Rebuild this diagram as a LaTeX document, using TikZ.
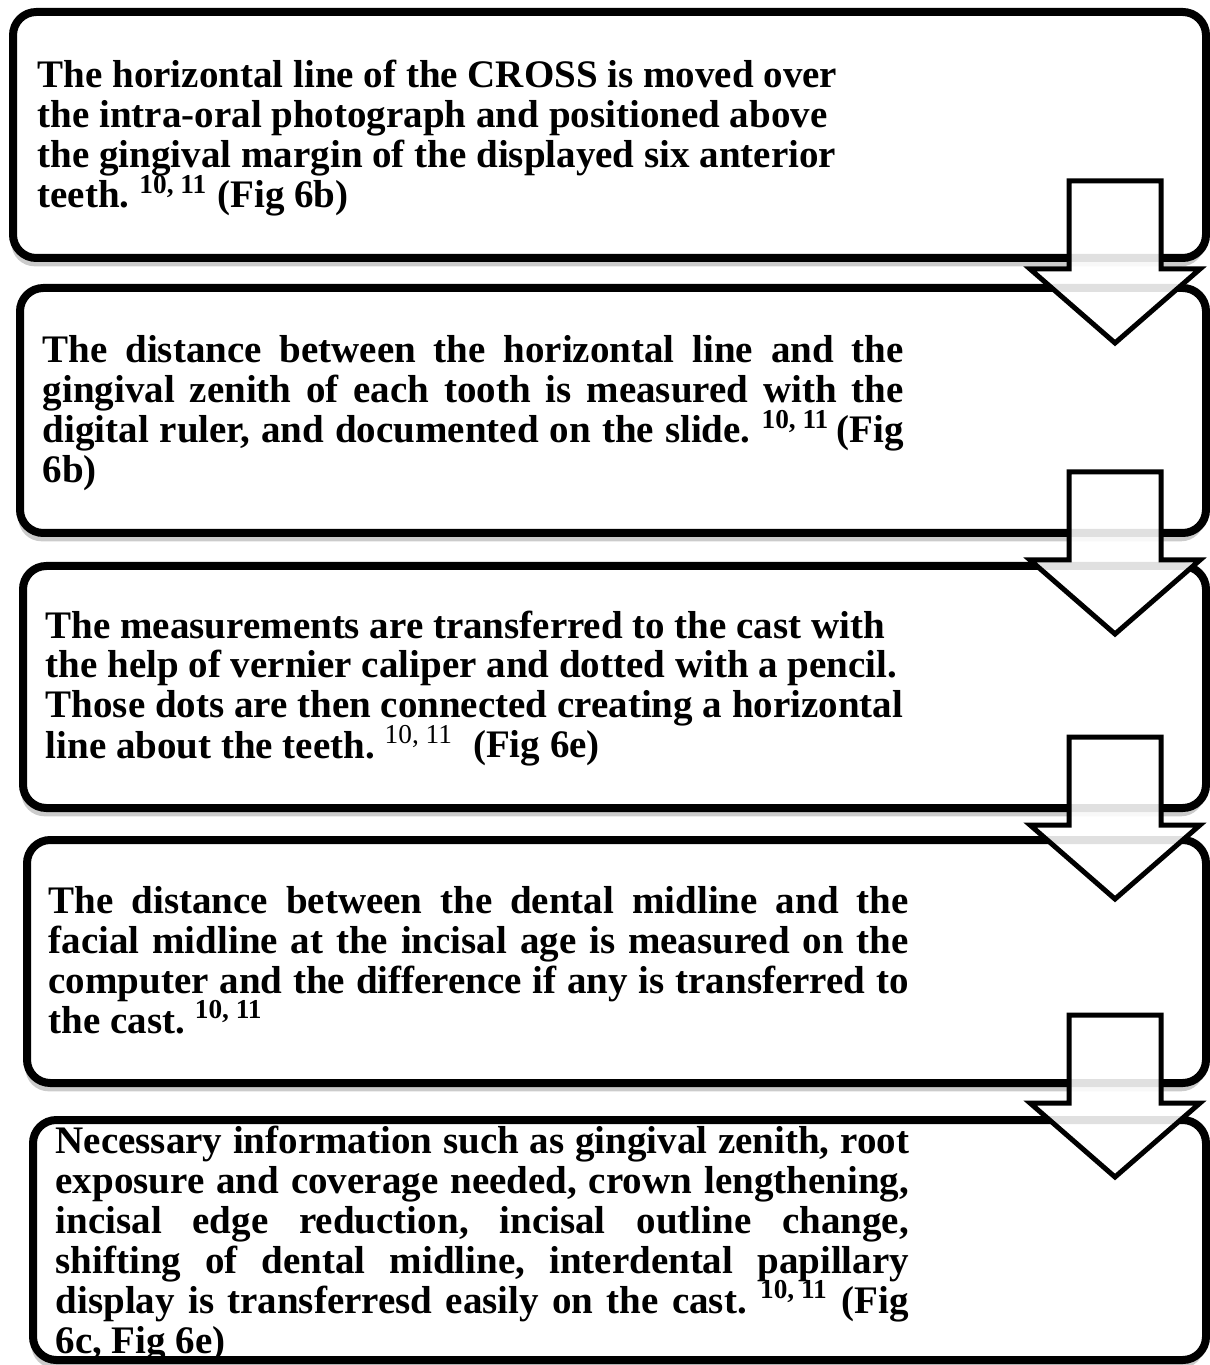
\documentclass[tikz,border=0pt]{standalone}
\usepackage{fontspec}
\setmainfont{Liberation Serif}
\usetikzlibrary{shadows}
\frenchspacing
\begin{document}
\begin{tikzpicture}[x=0.3pt,y=-0.3pt]


\newcommand{\refs}[1]{\textsuperscript{#1}}
\newcommand{\lrefs}[1]{\textsuperscript{\mdseries #1}}
\newcommand{\tightskip}{\lineskiplimit=-20pt\relax}

  \definecolor{boxcol}{rgb}{1.0,1.0,1.0}
  \definecolor{shdcol}{rgb}{0.55,0.55,0.55}

 \useasboundingbox (0,0) rectangle (1209,1365);

 \tikzset{
      boxstl/.style={line width=2.4pt,rounded corners=7pt,fill=boxcol,
        drop shadow={shadow xshift=-0.5pt,shadow yshift=-2.5pt,fill=shdcol,opacity=0.45}},
      txtstl/.style={anchor=base west,inner sep=0pt,
        font=\bfseries\fontsize{11.7}{12}\selectfont,
        execute at begin node=\tightskip},
      arrstl/.style={line width=1.5pt,fill=white,fill opacity=0.88},
    }

% the five steps
 \draw[boxstl] (13,12) rectangle (1206,258);
 \draw[boxstl] (20,288) rectangle (1206,533);
 \draw[boxstl] (23,566) rectangle (1206,808);
 \draw[boxstl] (27,840) rectangle (1206,1083);
 \draw[boxstl] (33,1120) rectangle (1206,1360);

 \node[txtstl,text width=270pt,align=flush left] (step1) at (37,88)
  {The horizontal line of the CROSS is moved over\\
   the intra-oral photograph and positioned above\\
   the gingival margin of the displayed six anterior\\
   teeth. \refs{10, 11} (Fig 6b)};

 \node[txtstl,text width=258.3pt,align=justify] (step2) at (42,363)
  {The distance between the horizontal line and the\linebreak
   gingival zenith of each tooth is measured with the\linebreak
   digital ruler, and documented on the slide. \refs{10, 11}\,(Fig\linebreak
   6b)};

 \node[txtstl,text width=270pt,align=flush left] (step3) at (45,638)
  {The measurements are transferred to the cast with\\
   the help of vernier caliper and dotted with a pencil.\\
   Those dots are then connected creating a horizontal\\
   line about the teeth. \lrefs{10, 11}\ \ (Fig 6e)};

 \node[txtstl,text width=258pt,align=justify] (step4) at (48,913)
  {The distance between the dental midline and the\linebreak
   facial midline at the incisal age is measured on the\linebreak
   computer and the difference if any is transferred to\linebreak
   the cast. \refs{10, 11}};

 \node[txtstl,text width=256pt,align=justify] (step5) at (55,1153)
  {Necessary information such as gingival zenith, root\linebreak
   exposure and coverage needed, crown lengthening,\linebreak
   incisal edge reduction, incisal outline change,\linebreak
   shifting of dental midline, interdental papillary\linebreak
   display is transferresd easily on the cast. \refs{10, 11} (Fig\linebreak
   6c, Fig 6e)};

% block arrows between the steps
 \foreach \yy in {181,472,737,1015}
  \filldraw[arrstl] (1069,\yy) -- (1161,\yy) -- (1161,\yy+88) --
  (1200,\yy+88) -- (1115,\yy+162) -- (1030,\yy+88) -- (1069,\yy+88) -- cycle;
\end{tikzpicture}
\end{document}
